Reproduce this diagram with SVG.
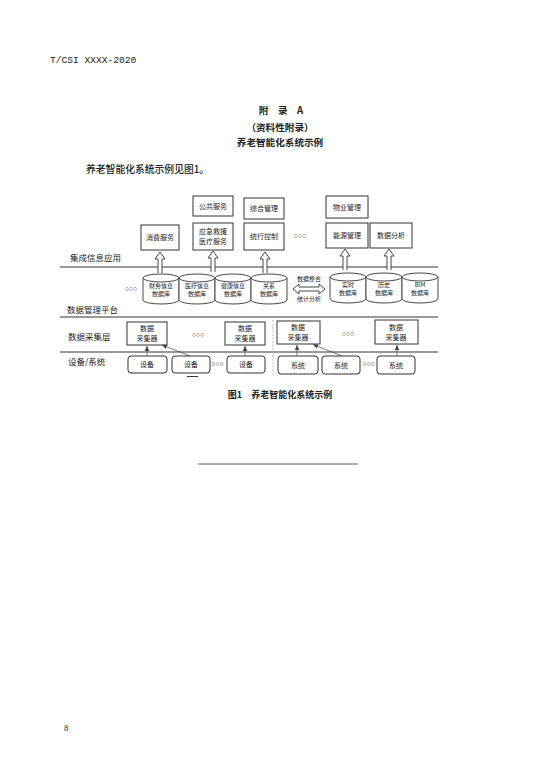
<svg xmlns="http://www.w3.org/2000/svg" width="550" height="778" viewBox="0 0 550 778">
<defs>
<style>
.cjk{font-family:"Noto Sans CJK SC","Noto Sans",sans-serif;fill:#222}
.bx{fill:#fff;stroke:#333;stroke-width:1}
.rb{fill:#fff;stroke:#333;stroke-width:1}
.t{font-size:7px;text-anchor:middle}
.ts{font-size:6px;text-anchor:middle}
.lb{font-size:8.5px}
.sep{stroke:#777;stroke-width:1.3}
.ha{fill:#fff;stroke:#333;stroke-width:0.9}
.ln{stroke:#444;stroke-width:0.7;fill:none}
.dots{font-family:"Liberation Sans",sans-serif;font-size:7px;fill:#333;text-anchor:middle}
</style>
<marker id="ah" markerWidth="6" markerHeight="6" refX="5" refY="3" orient="auto" markerUnits="userSpaceOnUse">
<path d="M0,0.8 L5,3 L0,5.2 z" fill="#444"/>
</marker>
<g id="cyl">
<path d="M0,4 L0,26 A18,4 0 0 0 36,26 L36,4" fill="#fff" stroke="#333" stroke-width="0.9"/>
<ellipse cx="18" cy="4" rx="18" ry="4" fill="#fff" stroke="#333" stroke-width="0.9"/>
</g>
<path id="uparr" d="M-2,0 L-2,-14 L-5,-14 L0,-21 L5,-14 L2,-14 L2,0" class="ha"/>
</defs>
<rect width="550" height="778" fill="#fff"/>

<text x="50" y="63" font-family="Liberation Mono,monospace" font-size="9.6" fill="#222">T/CSI XXXX-2020</text>

<g id="title" class="cjk" font-weight="bold" font-size="9.6" text-anchor="middle">
<text x="281" y="114">附　录　A</text>
<text x="280" y="131">（资料性附录）</text>
<text x="280" y="146">养老智能化系统示例</text>
</g>
<text class="cjk" x="86" y="173" font-size="9.8" font-weight="500">养老智能化系统示例见图1。</text>

<!-- separators -->
<g id="layers">
<line class="sep" x1="60" y1="267" x2="438" y2="267"/>
<line class="sep" x1="60" y1="317" x2="438" y2="317"/>
<line class="sep" x1="60" y1="352" x2="438" y2="352"/>
<line x1="273" y1="320" x2="273" y2="376" stroke="#aaa" stroke-width="0.8" stroke-dasharray="2,1.5"/>
<text class="cjk lb" x="70" y="261">集成信息应用</text>
<text class="cjk lb" x="67" y="313">数据管理平台</text>
<text class="cjk lb" x="68" y="340">数据采集层</text>
<text class="cjk lb" x="68" y="365">设备/系统</text>
</g>

<!-- application boxes -->
<g id="gonggong"><rect class="bx" x="193" y="196" width="40" height="20"/><text class="cjk t" x="213" y="209">公共服务</text></g>
<g id="zonghe"><rect class="bx" x="244" y="198" width="40" height="21"/><text class="cjk t" x="264" y="211">综合管理</text></g>
<g id="wuye"><rect class="bx" x="326" y="196" width="42" height="22"/><text class="cjk t" x="347" y="210">物业管理</text></g>
<g id="xiaofei"><rect class="bx" x="141" y="225" width="38" height="25"/><text class="cjk t" x="160" y="240">消费服务</text></g>
<g id="yingji"><rect class="bx" x="193" y="223" width="40" height="27"/><text class="cjk t" x="213" y="234">应急救援</text><text class="cjk t" x="213" y="244">医疗服务</text></g>
<g id="yunxing"><rect class="bx" x="244" y="223" width="40" height="27"/><text class="cjk t" x="264" y="239">统行控制</text></g>
<g id="nengyuan"><rect class="bx" x="326" y="223" width="42" height="25"/><text class="cjk t" x="347" y="238">能源管理</text></g>
<g id="shujufenxi"><rect class="bx" x="370" y="223" width="42" height="25"/><text class="cjk t" x="391" y="238">数据分析</text></g>
<text class="dots" x="300" y="238">○○○</text>

<!-- databases -->
<g id="db1"><use href="#cyl" x="143" y="274"/><text class="cjk ts" x="161" y="288">财务信息</text><text class="cjk ts" x="161" y="296">数据库</text></g>
<g id="db2"><use href="#cyl" x="179" y="274"/><text class="cjk ts" x="197" y="288">医疗信息</text><text class="cjk ts" x="197" y="296">数据库</text></g>
<g id="db3"><use href="#cyl" x="215" y="274"/><text class="cjk ts" x="233" y="288">健康信息</text><text class="cjk ts" x="233" y="296">数据库</text></g>
<g id="db4"><use href="#cyl" x="251" y="274"/><text class="cjk ts" x="269" y="288">关系</text><text class="cjk ts" x="269" y="296">数据库</text></g>
<g id="db5"><use href="#cyl" x="330" y="273"/><text class="cjk ts" x="348" y="287">实时</text><text class="cjk ts" x="348" y="295">数据库</text></g>
<g id="db6"><use href="#cyl" x="366" y="273"/><text class="cjk ts" x="384" y="287">历史</text><text class="cjk ts" x="384" y="295">数据库</text></g>
<g id="db7"><use href="#cyl" x="402" y="273"/><text class="cjk ts" x="420" y="287">BIM</text><text class="cjk ts" x="420" y="295">数据库</text></g>
<text class="dots" x="131" y="291">○○○</text>
<g id="zhenghe">
<text class="cjk ts" x="309" y="281">数据整合</text>
<path class="ha" d="M293,289 L299,284 L299,287 L319,287 L319,284 L325,289 L319,294 L319,291 L299,291 L299,294 Z"/>
<text class="cjk ts" x="309" y="301">统计分析</text>
</g>

<!-- collectors -->
<g id="c1"><rect class="bx" x="127" y="322" width="40" height="23"/><text class="cjk t" x="147" y="331">数据</text><text class="cjk t" x="147" y="341">采集器</text></g>
<g id="c2"><rect class="bx" x="225" y="322" width="40" height="23"/><text class="cjk t" x="245" y="331">数据</text><text class="cjk t" x="245" y="341">采集器</text></g>
<g id="c3"><rect class="bx" x="277" y="321" width="43" height="23"/><text class="cjk t" x="298" y="330">数据</text><text class="cjk t" x="298" y="340">采集器</text></g>
<g id="c4"><rect class="bx" x="375" y="320" width="43" height="24"/><text class="cjk t" x="396" y="330">数据</text><text class="cjk t" x="396" y="340">采集器</text></g>
<text class="dots" x="198" y="337">○○○</text>
<text class="dots" x="348" y="336">○○○</text>

<!-- devices -->
<g id="d1"><rect class="rb" x="128" y="356" width="39" height="17" rx="3"/><text class="cjk t" x="147" y="367">设备</text></g>
<g id="d2"><rect class="rb" x="172" y="356" width="38" height="17" rx="3"/><text class="cjk t" x="191" y="367">设备</text></g>
<g id="d3"><rect class="rb" x="227" y="356" width="38" height="17" rx="3"/><text class="cjk t" x="246" y="367">设备</text></g>
<g id="s1"><rect class="rb" x="278" y="356" width="40" height="18" rx="3"/><text class="cjk t" x="298" y="368">系统</text></g>
<g id="s2"><rect class="rb" x="322" y="356" width="38" height="18" rx="3"/><text class="cjk t" x="341" y="368">系统</text></g>
<g id="s3"><rect class="rb" x="377" y="356" width="38" height="18" rx="3"/><text class="cjk t" x="396" y="368">系统</text></g>
<text class="dots" x="217.5" y="366">○○○</text>
<text class="dots" x="368.5" y="366">○○○</text>
<line x1="187" y1="376.5" x2="198" y2="376.5" stroke="#333" stroke-width="1"/>

<!-- connectors -->
<g id="connectors">
<use href="#uparr" x="160" y="273"/>
<use href="#uparr" x="213" y="272"/>
<use href="#uparr" x="265" y="273"/>
<use href="#uparr" x="345" y="270"/>
<use href="#uparr" x="389" y="270"/>
<line class="ln" x1="147" y1="356" x2="147" y2="346" marker-end="url(#ah)"/>
<line class="ln" x1="190" y1="356" x2="162" y2="345" marker-end="url(#ah)"/>
<line class="ln" x1="245" y1="356" x2="245" y2="346" marker-end="url(#ah)"/>
<line class="ln" x1="297" y1="356" x2="297" y2="345" marker-end="url(#ah)"/>
<line class="ln" x1="342" y1="356" x2="313" y2="344.5" marker-end="url(#ah)"/>
<line class="ln" x1="397" y1="356" x2="397" y2="345" marker-end="url(#ah)"/>
</g>

<text class="cjk" x="280" y="398" font-size="9" font-weight="bold" text-anchor="middle">图1　养老智能化系统示例</text>
<line x1="198" y1="464" x2="358" y2="464" stroke="#555" stroke-width="1"/>
<text x="64" y="731" font-family="Liberation Serif,serif" font-size="9" fill="#333">8</text>
</svg>
